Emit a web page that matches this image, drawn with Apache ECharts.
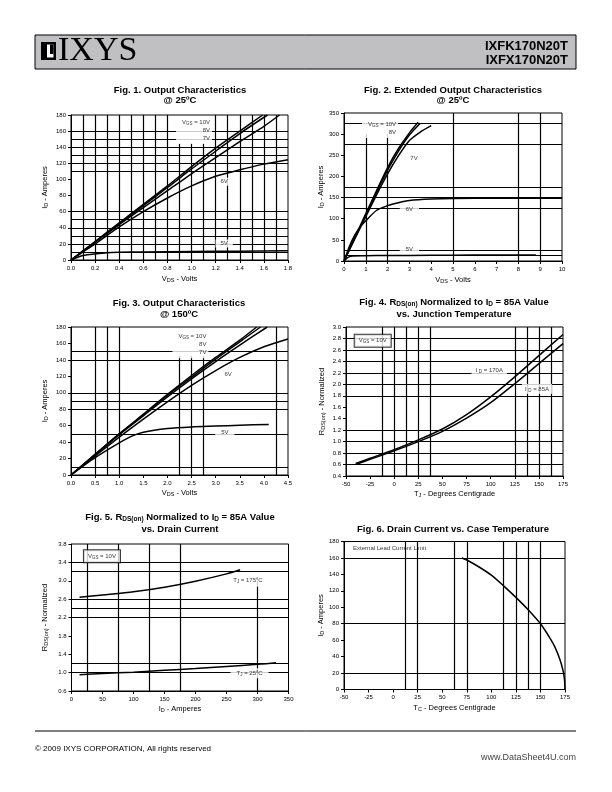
<!DOCTYPE html>
<html><head><meta charset="utf-8">
<script src="https://cdn.jsdelivr.net/npm/echarts@6/dist/echarts.min.js"></script>
<style>html,body{margin:0;padding:0;background:#fff}#c{width:612px;height:792px}</style>
</head><body><div id="c"></div>
<script>
const FONT = '"Liberation Sans", Arial, Helvetica, sans-serif';

// ---------- Fig 1: Output characteristics @25C ----------
const fig1_10V = [[0,0],[0.2,23],[0.4,46],[0.6,69],[0.8,92],[1.0,116],[1.2,139],[1.4,160],[1.59,180]];
const fig1_8V  = [[0,0],[0.2,22.5],[0.4,45],[0.6,67.5],[0.8,90],[1.0,113],[1.2,135],[1.4,157],[1.63,180]];
const fig1_7V  = [[0,0],[0.2,22],[0.4,44],[0.6,65],[0.8,86],[1.0,107],[1.2,127],[1.4,147],[1.6,166],[1.73,180]];
const fig1_6V  = [[0,0],[0.2,20],[0.4,41],[0.6,60],[0.8,77],[1.0,92],[1.2,104],[1.4,112],[1.6,119],[1.8,124.5]];
const fig1_5V  = [[0,0],[0.05,3],[0.1,5.5],[0.2,7.5],[0.3,9],[0.4,9.5],[0.6,10],[1.0,10.5],[1.4,11],[1.8,11.6]];
const fig1GridX = [0.1,0.2,0.3,0.4,0.5,0.6,0.7,0.8,1.2,1.3,1.4,1.5,1.6,1.7];
const fig1GridXShort = [0.9,1.0,1.1];
const fig1GridY = [10,20,30,40,50,60,110,120,130,140,150,160];

// ---------- Fig 2: Extended output characteristics @25C ----------
const fig2_10V = [[0,0],[0.5,56],[1,112],[1.5,167],[2,221],[2.5,266],[3,303],[3.4,328]];
const fig2_8V  = [[0,0],[0.5,55],[1,109],[1.5,163],[2,215],[2.5,260],[3,298],[3.5,326]];
const fig2_7V  = [[0,0],[0.5,53],[1,105],[1.5,157],[2,206],[2.5,249],[3,285],[3.5,305],[4,320]];
const fig2_6V  = [[0,0],[0.25,35],[0.5,62],[0.75,81],[1,95],[1.5,120],[2,131],[2.5,138],[3,143],[4,146.5],[5,148],[7,148.5],[10,148.5]];
const fig2_5V  = [[0,0],[0.2,9],[0.4,12],[1,12.5],[2,13],[4,13.5],[6,14],[8.8,14]];
const fig2GridX = [5,8,9];
const fig2GridXShort = [1,2];
const fig2GridY = [13,25,125,150,175,275,325];

// ---------- Fig 3: Output characteristics @150C ----------
const fig3_10V = [[0,0],[0.5,25],[1,50],[1.5,74],[2,98],[2.5,121],[3,143],[3.5,164],[3.85,180]];
const fig3_8V  = [[0,0],[0.5,25],[1,50],[1.5,73],[2,97],[2.5,119],[3,141],[3.5,162],[3.93,180]];
const fig3_7V  = [[0,0],[0.5,24.5],[1,49],[1.5,72],[2,95],[2.5,117],[3,138],[3.5,158],[4.07,180]];
const fig3_6V  = [[0,0],[0.5,23],[1,46],[1.5,68],[2,89],[2.5,109],[3,127],[3.5,143],[4,156],[4.5,165.5]];
const fig3_5V  = [[0,0],[0.5,21],[1,39],[1.25,47],[1.5,52],[2,56.5],[2.5,58.5],[3,59.5],[3.5,60.5],[4.1,61.5]];
const fig3GridX = [0.5,0.75,1.0,4.25];
const fig3GridXShort = [2.25,2.5,2.75];
const fig3GridY = [10,50,80,90,100,140,150];

// ---------- Fig 4: RDS(on) vs junction temperature ----------
const fig4Temp  = [-40,-25,0,25,50,75,100,125,150,175];
const fig4_170A = [0.62,0.71,0.86,1.03,1.22,1.47,1.78,2.13,2.50,2.87];
const fig4_85A  = [0.60,0.69,0.84,1.00,1.18,1.41,1.68,2.01,2.36,2.71];
const fig4GridX = [-12.5,0,12.5,25,37.5,125,137.5,150,162.5];
const fig4GridY = [0.6,0.8,1.0,1.2,1.8,2.0,2.2,2.4,2.6,2.8];

// ---------- Fig 5: RDS(on) vs drain current ----------
const fig5Id175 = [13,50,100,150,200,250,272];
const fig5R175  = [2.64,2.69,2.76,2.86,2.99,3.15,3.24];
const fig5Id25  = [13,50,100,150,200,250,300,330];
const fig5R25   = [0.955,0.98,1.01,1.05,1.09,1.135,1.18,1.215];
const fig5GridX = [25,75,125,175];
const fig5GridXShort = [300];
const fig5GridY = [1.0,1.2,2.2,2.4,2.6,3.2,3.4];

// ---------- Fig 6: Drain current vs case temperature ----------
const fig6Temp = [70,75,87.5,100,112.5,125,137.5,150,160,165,170,173,174.5,175];
const fig6Id   = [160,157.5,149,139,126,112,97,80,62,51,36,23,12,0];
const fig6GridX = [12.5,25,62.5,75,112.5,125,137.5,150];
const fig6GridY = [20,80,160];

// ---------- layout ----------
const GRIDS = [
  {left:71,   top:115,   width:217, height:145},
  {left:344,  top:113,   width:218, height:148},
  {left:71,   top:327,   width:217, height:148},
  {left:346,  top:327,   width:217, height:149},
  {left:71.5, top:544,   width:217, height:147},
  {left:344,  top:541.5, width:221, height:148}
];

const zip = (a,b) => a.map((v,i)=>[v,b[i]]);

const RICH = {
  a:{fontSize:6, color:'#000'},
  s:{fontSize:4.5, color:'#000', verticalAlign:'bottom', padding:[3,0,0,0]},
  ar:{fontSize:6, color:'#000', align:'right', lineHeight:8},
  sr:{fontSize:4.5, color:'#000', align:'right', verticalAlign:'bottom', padding:[3,0,0,0]},
  n:{fontSize:7.5, color:'#000'},
  ns:{fontSize:5.5, color:'#000', verticalAlign:'bottom', padding:[3,0,0,0]}
};

function gridLines(vx, vy, segs){
  const d = [];
  vx.forEach(v=>d.push({xAxis:v}));
  vy.forEach(v=>d.push({yAxis:v}));
  (segs||[]).forEach(s=>d.push([{coord:s[0]},{coord:s[1]}]));
  return {silent:true, symbol:['none','none'], label:{show:false}, emphasis:{disabled:true},
    lineStyle:{color:'#000', type:'solid', width:1.2, opacity:1}, animation:false, data:d};
}

function curve(gi, data, ml){
  const s = {type:'line', xAxisIndex:gi, yAxisIndex:gi, data, showSymbol:false, symbol:'none',
    smooth:0.25, silent:true, animation:false, z:3, lineStyle:{color:'#000', width:1.5}};
  if (ml) s.markLine = ml;
  return s;
}

function notes(gi, items){
  return {type:'scatter', xAxisIndex:gi, yAxisIndex:gi, z:20, silent:true, animation:false,
    symbol:'rect', symbolSize:1, itemStyle:{color:'rgba(0,0,0,0)'},
    label:{show:true, position:'inside', fontSize:6, color:'#000', backgroundColor:'#fff', padding:[1,2], rich:RICH},
    data: items.map(it=>({value:[it[0],it[1]], label:Object.assign({formatter:it[2]}, it[3]||{})}))};
}

function xAx(gi, min, max, interval, dec, name, gap){
  return {gridIndex:gi, type:'value', min, max, interval,
    axisLine:{onZero:false, lineStyle:{color:'#000', width:1}},
    axisTick:{length:3, lineStyle:{color:'#000'}},
    axisLabel:{fontSize:6, color:'#000', margin:5, formatter:v=>v.toFixed(dec)},
    splitLine:{show:false}, name, nameLocation:'middle', nameGap:gap,
    nameTextStyle:{rich:RICH}};
}
function yAx(gi, min, max, interval, dec, name, gap){
  return {gridIndex:gi, type:'value', min, max, interval,
    axisLine:{onZero:false, lineStyle:{color:'#000', width:1}},
    axisTick:{length:3, lineStyle:{color:'#000'}},
    axisLabel:{fontSize:6, color:'#000', margin:5, formatter:v=>v.toFixed(dec)},
    splitLine:{show:false}, name, nameLocation:'middle', nameGap:gap,
    nameTextStyle:{rich:RICH}};
}

const nID = '{n|I}{ns|D}{n| - Amperes}';
const nVDS = '{n|V}{ns|DS}{n| - Volts}';
const nR = '{n|R}{ns|DS(on)}{n| - Normalized}';

const boxed = {borderColor:'#000', borderWidth:1, padding:[2,4]};

const series = [
  // Fig 1
  curve(0, fig1_10V, gridLines(fig1GridX, fig1GridY, fig1GridXShort.map(v=>[[v,0],[v,145]]))),
  curve(0, fig1_8V), curve(0, fig1_7V), curve(0, fig1_6V), curve(0, fig1_5V),
  notes(0, [
    [1.17, 161.4, '{ar|V}{sr|GS}{ar| = 10V}\n{ar|8V}\n{ar|7V}', {align:'right', padding:[2,2,2,6]}],
    [1.27, 97.2, '6V'],
    [1.27, 20.5, '5V', {padding:[1,5]}]
  ]),
  // Fig 2
  curve(1, fig2_10V, gridLines(fig2GridX, fig2GridY, fig2GridXShort.map(v=>[[v,0],[v,300]]))),
  curve(1, fig2_8V), curve(1, fig2_7V), curve(1, fig2_6V), curve(1, fig2_5V),
  notes(1, [
    [2.48, 314.5, '{ar|V}{sr|GS}{ar| = 10V}\n{ar|8V}', {align:'right', padding:[2,2,2,6]}],
    [3.21, 241.7, '7V'],
    [3.0, 122.8, '6V', {padding:[1,6]}],
    [3.0, 27, '5V', {padding:[1,6]}]
  ]),
  // Fig 3
  curve(2, fig3_10V, gridLines(fig3GridX, fig3GridY, fig3GridXShort.map(v=>[[v,0],[v,145]]))),
  curve(2, fig3_8V), curve(2, fig3_7V), curve(2, fig3_6V), curve(2, fig3_5V),
  notes(2, [
    [2.85, 159.1, '{ar|V}{sr|GS}{ar| = 10V}\n{ar|8V}\n{ar|7V}', {align:'right', padding:[2,2,2,6]}],
    [3.26, 122.8, '6V'],
    [3.19, 51.5, '5V', {padding:[1,6]}]
  ]),
  // Fig 4
  curve(3, zip(fig4Temp, fig4_170A), gridLines(fig4GridX, fig4GridY)),
  curve(3, zip(fig4Temp, fig4_85A)),
  notes(3, [
    [-22.3, 2.762, '{a|V}{s|GS}{a| = 10V}', boxed],
    [98.5, 2.24, '{a|I }{s|D}{a| = 170A}', {padding:[1,4]}],
    [148, 1.92, '{a|I }{s|D}{a| = 85A}', {padding:[1,3]}]
  ]),
  // Fig 5
  curve(4, zip(fig5Id175, fig5R175), gridLines(fig5GridX, fig5GridY, fig5GridXShort.map(v=>[[v,0.6],[v,3.0]]))),
  curve(4, zip(fig5Id25, fig5R25)),
  notes(4, [
    [49.1, 3.532, '{a|V}{s|GS}{a| = 10V}', boxed],
    [284.5, 3.0, '{a|T}{s|J}{a| = 175ºC}', {padding:[2,3]}],
    [287.2, 0.985, '{a|T}{s|J}{a| = 25ºC}', {padding:[1,6]}]
  ]),
  // Fig 6
  curve(5, zip(fig6Temp, fig6Id), gridLines(fig6GridX, fig6GridY)),
  notes(5, [
    [-40.8, 171.1, 'External Lead Current Limit', {align:'left', backgroundColor:'transparent', padding:0}]
  ])
];

const TB = 'bold 9.5px ' + FONT;
const TS = 'bold 6.5px ' + FONT;
function title(x, y, text){
  return {type:'text', x, y, z:50, silent:true,
    style:{text, font:TB, fill:'#000', align:'center', verticalAlign:'middle',
      rich:{s:{font:TS, fill:'#000', verticalAlign:'bottom', padding:[4,0,0,0]}}}};
}

const graphic = [
  // header
  {type:'rect', shape:{x:35, y:35, width:541, height:34}, style:{fill:'#c0c0c2', stroke:'#000', lineWidth:1}, silent:true},
  {type:'rect', shape:{x:41, y:42, width:15, height:18}, style:{fill:'#000'}, silent:true},
  {type:'rect', shape:{x:47, y:44.5, width:6.5, height:13}, style:{fill:'#fff'}, silent:true},
  {type:'rect', shape:{x:50, y:44.5, width:3.5, height:9.5}, style:{fill:'#000'}, silent:true},
  {type:'text', x:58, y:51.5, silent:true, style:{text:'IXYS', font:'34px "Liberation Serif", "Times New Roman", serif', fill:'#000', align:'left', verticalAlign:'middle'}},
  {type:'text', x:568, y:46.5, silent:true, style:{text:'IXFK170N20T', font:'bold 13px ' + FONT, fill:'#000', align:'right', verticalAlign:'middle'}},
  {type:'text', x:568, y:60, silent:true, style:{text:'IXFX170N20T', font:'bold 13px ' + FONT, fill:'#000', align:'right', verticalAlign:'middle'}},
  // titles
  title(180, 90.5, 'Fig. 1. Output Characteristics'),
  title(180, 100.5, '@ 25ºC'),
  title(453, 90.5, 'Fig. 2. Extended Output Characteristics'),
  title(453, 100.5, '@ 25ºC'),
  title(179, 303, 'Fig. 3. Output Characteristics'),
  title(179, 314, '@ 150ºC'),
  title(454, 302.5, 'Fig. 4. R{s|DS(on)} Normalized to I{s|D} = 85A Value'),
  title(454, 314.5, 'vs. Junction Temperature'),
  title(180, 517.5, 'Fig. 5. R{s|DS(on)} Normalized to I{s|D} = 85A Value'),
  title(180, 529.5, 'vs. Drain Current'),
  title(453, 529, 'Fig. 6. Drain Current vs. Case Temperature'),
  // footer
  {type:'line', shape:{x1:35, y1:731, x2:576, y2:731}, style:{stroke:'#000', lineWidth:1}, silent:true},
  {type:'text', x:35, y:749, silent:true, style:{text:'© 2009 IXYS CORPORATION, All rights reserved', font:'8px ' + FONT, fill:'#000', align:'left', verticalAlign:'middle'}},
  {type:'text', x:576, y:758, silent:true, style:{text:'www.DataSheet4U.com', font:'9px ' + FONT, fill:'#444', align:'right', verticalAlign:'middle'}}
];

const option = {
  animation:false,
  textStyle:{fontFamily:FONT, color:'#000'},
  grid: GRIDS.map(g=>Object.assign({show:true, borderColor:'#000', borderWidth:1, backgroundColor:'transparent'}, g)),
  xAxis: [
    xAx(0, 0, 1.8, 0.2, 1, nVDS, 14),
    xAx(1, 0, 10, 1, 0, nVDS, 14),
    xAx(2, 0, 4.5, 0.5, 1, nVDS, 13),
    xAx(3, -50, 175, 25, 0, '{n|T}{ns|J}{n| - Degrees Centigrade}', 13),
    xAx(4, 0, 350, 50, 0, nID, 13),
    xAx(5, -50, 175, 25, 0, '{n|T}{ns|C}{n| - Degrees Centigrade}', 14)
  ],
  yAxis: [
    yAx(0, 0, 180, 20, 0, nID, 22),
    yAx(1, 0, 350, 50, 0, nID, 19),
    yAx(2, 0, 180, 20, 0, nID, 22),
    yAx(3, 0.4, 3.0, 0.2, 1, nR, 20),
    yAx(4, 0.6, 3.8, 0.4, 1, nR, 22),
    yAx(5, 0, 180, 20, 0, nID, 19)
  ],
  series,
  graphic
};

const chart = echarts.init(document.getElementById('c'), null, {renderer:'canvas'});
chart.setOption(option);
</script></body></html>
